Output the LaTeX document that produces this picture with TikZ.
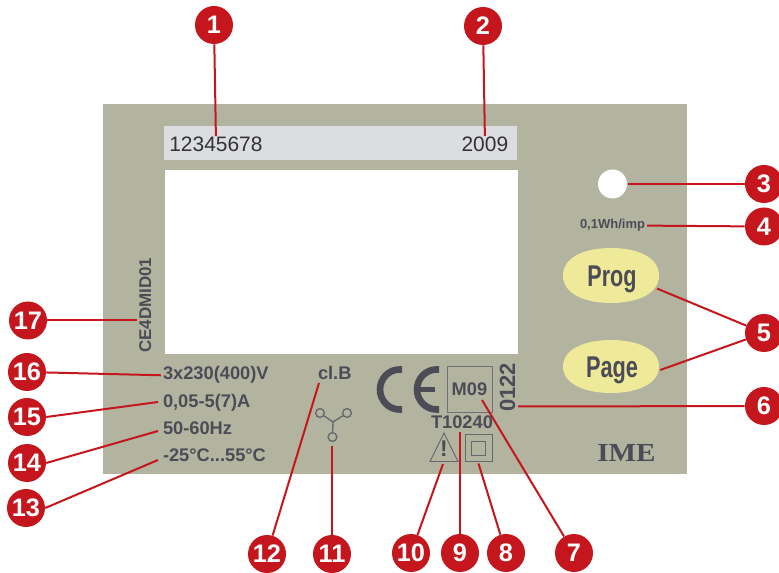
\documentclass[tikz,border=0pt]{standalone}
\usepackage{fontspec}
\usepackage{graphicx}
\setmainfont{Liberation Sans}
\newfontfamily\serifbold[Scale=1]{Liberation Serif}
\definecolor{plate}{HTML}{B2B4A0}
\definecolor{strip}{HTML}{DCDDE0}
\definecolor{leadred}{HTML}{C4161C}
\definecolor{ink}{HTML}{4C4C56}
\definecolor{keyfill}{HTML}{EFE99A}
\usetikzlibrary{shapes.geometric}
\tikzset{
  callout/.style={circle, fill=leadred, text=white, inner sep=0pt, minimum size=28.5pt,
    font=\fontsize{19}{19}\selectfont\bfseries},
  leader/.style={draw=leadred, line width=1.5pt},
  mark label/.style={text=ink, inner sep=0pt, outer sep=1.5pt, font=\fontsize{13.7}{16}\selectfont\bfseries},
  window label/.style={text=black!80, inner sep=0pt, outer sep=1pt, font=\fontsize{15.7}{18}\selectfont},
  keycap/.style={ellipse, inner sep=0pt, minimum width=72pt, minimum height=40pt, text=ink,
    font=\fontsize{22.5}{24}\selectfont\bfseries},
  thin mark/.style={draw=ink!85, line width=0.7pt}
}
\begin{document}
\begin{tikzpicture}[x=0.75pt, y=-0.75pt]
\useasboundingbox (0,0) rectangle (779,573);
% plate and windows
\fill[plate] (103,104) rectangle (687,474);
\fill[strip] (164,126) rectangle (517,160);
\fill[white] (165,170) rectangle (518,354);
% keys
\fill[keyfill] (563,275.5) .. controls (563,257) and (585,248) .. (611,248) .. controls (637,248) and (659,257) .. (659,275.5) .. controls (659,294) and (637,303) .. (611,303) .. controls (585,303) and (563,294) .. (563,275.5) -- cycle;
\fill[keyfill] (563,366.5) .. controls (563,349) and (585,340) .. (611,340) .. controls (637,340) and (659,349) .. (659,366.5) .. controls (659,384) and (637,393) .. (611,393) .. controls (585,393) and (563,384) .. (563,366.5) -- cycle;
\node[keycap] (prog) at (612,279) {\scalebox{.72}[1]{Prog}};
\node[keycap] (page) at (612,370) {\scalebox{.725}[1]{Page}};
\node[circle, fill=white, inner sep=0pt, minimum size=21.75pt, outer sep=1pt] (led) at (612.5,184) {};
% texts
\node[window label, anchor=base west] (serial) at (168,152) {12345678};
\node[window label, anchor=base east] (year) at (509.5,152) {2009};
\node[mark label, anchor=base west, font=\fontsize{9.75}{12}\selectfont\bfseries] (rate) at (578,229) {0,1Wh/imp};
\node[mark label, anchor=base west] (volt) at (161,380) {3x230(400)V};
\node[mark label, anchor=base west] (curr) at (161,408) {0,05-5(7)A};
\node[mark label, anchor=base west] (freq) at (161,435) {50-60Hz};
\node[mark label, anchor=base west] (temp) at (161,462) {-25°C...55°C};
\node[mark label, anchor=base west] (cls) at (316,380) {cl.B};
\node[mark label, anchor=base west, rotate=90, font=\fontsize{12.75}{14}\selectfont\bfseries] (typecode) at (151,355) {CE4DMID01};
\node[mark label, anchor=base west, rotate=90, font=\fontsize{16.5}{18}\selectfont\bfseries] (lot) at (515,414) {0122};
\node[mark label, anchor=base west] (batch) at (429,429) {T10240};
\node[text=ink, inner sep=0pt, anchor=base, font=\fontsize{19.5}{20}\selectfont\serifbold\bfseries] (brand) at (626.5,462) {\scalebox{1.12}[1]{IME}};
% notified body box
\node[thin mark, mark label, draw=ink!80, minimum width=33.75pt, minimum height=34.5pt] (body) at (469.5,389) {M09};
% CE
\draw[ink, line width=5pt] (402,369.5) -- (399.5,369.5) .. controls (388.7,369.5) and (380,378.7) .. (380,389.5) .. controls (380,400.3) and (388.7,409.5) .. (399.5,409.5) -- (402,409.5);
\draw[ink, line width=5pt] (439,369.5) -- (436.5,369.5) .. controls (425.7,369.5) and (417,378.7) .. (417,389.5) .. controls (417,400.3) and (425.7,409.5) .. (436.5,409.5) -- (439,409.5);
\draw[ink, line width=3.6pt] (417,389.5) -- (435,389.5);
% warning and double insulation
\draw[thin mark, line join=miter] (444,433) -- (458,461.5) -- (430,461.5) -- cycle;
\node[text=ink, inner sep=0pt, font=\fontsize{17}{18}\selectfont\bfseries] (bang) at (444,449) {!};
\node[thin mark, inner sep=0pt, minimum size=20.25pt, outer sep=1.5pt] (dbl) at (478.5,448) {};
\node[thin mark, inner sep=0pt, minimum size=10.5pt] (dblin) at (478,448) {};
% three phase symbol
\coordinate (star) at (333,422);
\node[thin mark, circle, line width=1pt, inner sep=0pt, minimum size=6.6pt] (ph1) at (320,413) {};
\node[thin mark, circle, line width=1pt, inner sep=0pt, minimum size=6.6pt] (ph2) at (347,413) {};
\node[thin mark, circle, line width=1pt, inner sep=0pt, minimum size=6.6pt] (ph3) at (332.5,437) {};
\draw[thin mark, line width=1pt] (ph1) -- (star) -- (ph2);
\draw[thin mark, line width=1pt] (star) -- (ph3);
% numbered callouts
\node[callout] (n1) at (214,25) {1};
\node[callout] (n2) at (483,26) {2};
\node[callout] (n3) at (764,184) {3};
\node[callout] (n4) at (764,226.5) {4};
\node[callout] (n5) at (764,333) {5};
\node[callout] (n6) at (764,406) {6};
\node[callout] (n7) at (574,553) {7};
\node[callout] (n8) at (506,553) {8};
\node[callout] (n9) at (460,553) {9};
\node[callout] (n10) at (411,553) {10};
\node[callout] (n11) at (332,554) {11};
\node[callout] (n12) at (267,554) {12};
\node[callout] (n13) at (26,508) {13};
\node[callout] (n14) at (27,463) {14};
\node[callout] (n15) at (27,417) {15};
\node[callout] (n16) at (27,372) {16};
\node[callout] (n17) at (28,320.5) {17};
% free ends
\coordinate (end6) at (518,406.5);
\coordinate (end7) at (482,400);
\coordinate (end9) at (460,432);
\coordinate (end10) at (443,464);
\coordinate (end11) at (332,446);
\coordinate (end12) at (319,383);
\coordinate (end13) at (158,460);
\coordinate (end14) at (158,431);
\coordinate (end15) at (158,402);
\coordinate (end17) at (137,320.5);
% leaders
\draw[leader] (n1) -- (serial.north);
\draw[leader] (n2) -- (year.north);
\draw[leader] (n3) -- (led);
\draw[leader] (n4) -- (rate.east);
\draw[leader] (n5) -- (prog.-12);
\draw[leader] (n5) -- (page.east);
\draw[leader] (n6) -- (end6);
\draw[leader] (n7) -- (end7);
\draw[leader] (n8) -- (dbl.south);
\draw[leader] (n9) -- (end9);
\draw[leader] (n10) -- (end10);
\draw[leader] (n11) -- (end11);
\draw[leader] (n12) -- (end12);
\draw[leader] (n13.east) -- (end13);
\draw[leader] (n14.east) -- (end14);
\draw[leader] (n15.east) -- (end15);
\draw[leader] (n16) -- (volt.west);
\draw[leader] (n17) -- (end17);
\end{tikzpicture}
\end{document}
